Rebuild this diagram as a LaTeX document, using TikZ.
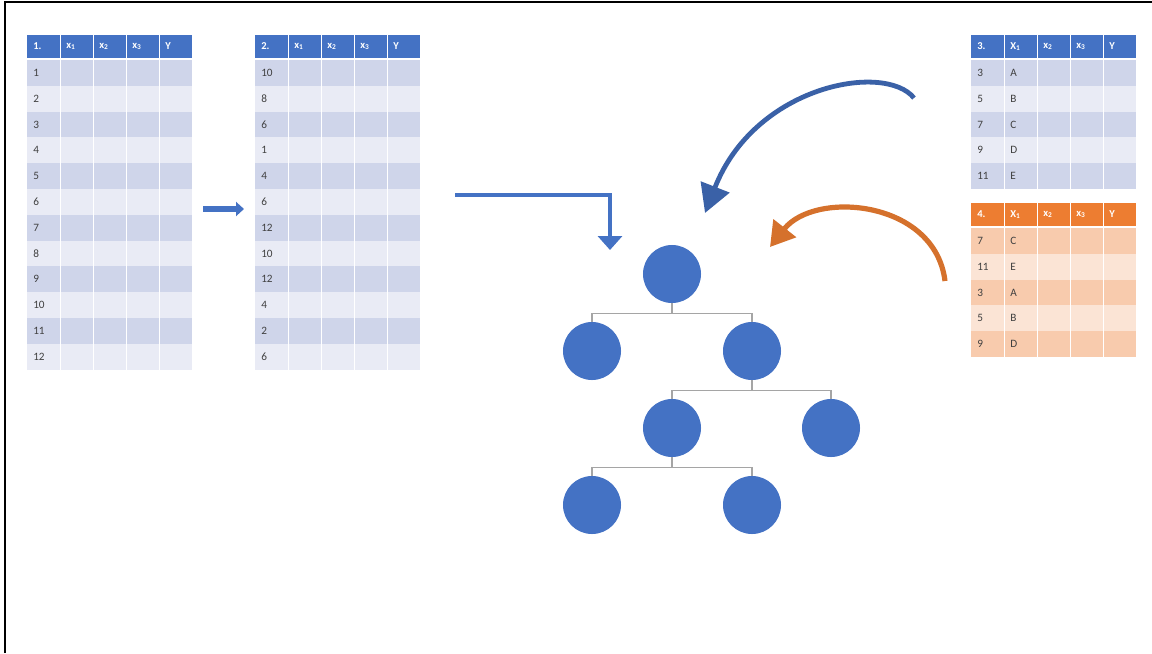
\documentclass[tikz,border=0pt]{standalone}
\usepackage{fontspec}
\setmainfont{Carlito}
\usetikzlibrary{arrows.meta, positioning}

\definecolor{bluehead}{HTML}{4472C4}
\definecolor{bluedark}{HTML}{CFD5EA}
\definecolor{bluelight}{HTML}{E9EBF5}
\definecolor{orangehead}{HTML}{ED7D31}
\definecolor{orangedark}{HTML}{F8CBAD}
\definecolor{orangelight}{HTML}{FBE4D5}
\definecolor{linkgrey}{HTML}{A5A5A5}
\definecolor{celltxt}{HTML}{404040}

\tikzset{
  headtext/.style={anchor=west, text=white, font=\fontsize{7.5}{8}\selectfont\bfseries, inner sep=0pt},
  celltext/.style={anchor=west, text=celltxt, font=\fontsize{8}{9}\selectfont, inner sep=0pt},
  treenode/.style={circle, fill=bluehead, minimum size=1.45cm, inner sep=0pt},
  link/.style={draw=linkgrey, line width=1pt},
  fatarrow/.style={draw=bluehead, line width=0.13cm, -{Triangle[length=0.35cm, width=0.6cm]}},
}

% table: name, left x, top y, colour stem, number, first variable, rows a/b
\newcommand{\datatable}[7]{%
  \fill[#4head] (#2,#3) rectangle ++(165,23);
  \foreach [count=\c from 0] \h in {#5,#6\textsubscript{1},x\textsubscript{2},x\textsubscript{3},Y}
    \node[headtext] (#1h\c) at (#2+6+33*\c, #3+11.5) {\h};
  \foreach [count=\r] \a/\b in {#7} {
    \ifodd\r \def\rowfill{#4dark}\else \def\rowfill{#4light}\fi
    \fill[\rowfill] (#2, #3+25+25.8*\r-25.8) rectangle ++(165,25.8);
    \foreach \c in {1,...,4}
      \draw[white, line width=0.6pt] (#2+33*\c, #3+25+25.8*\r-25.8) -- ++(0,25.8);
    \node[celltext] (#1a\r) at (#2+6, #3+25+25.8*\r-12.9) {\a};
    \node[celltext] (#1b\r) at (#2+39, #3+25+25.8*\r-12.9) {\b};
  }
  \foreach \c in {1,...,4}
    \draw[white, line width=0.6pt] (#2+33*\c, #3) -- ++(0,23);
}

\begin{document}
\begin{tikzpicture}[x=0.025cm, y=-0.025cm]
  \useasboundingbox (0,0) rectangle (1152,653);
  \draw[black, line width=1.2pt] (5,653) -- (5,2) -- (1152,2);

  % the four tables
  \datatable{ta}{27}{35}{blue}{1.}{x}{1/,2/,3/,4/,5/,6/,7/,8/,9/,10/,11/,12/}
  \datatable{tb}{255}{35}{blue}{2.}{x}{10/,8/,6/,1/,4/,6/,12/,10/,12/,4/,2/,6/}
  \datatable{tc}{971}{35}{blue}{3.}{X}{3/A,5/B,7/C,9/D,11/E}
  \datatable{td}{971}{203}{orange}{4.}{X}{7/C,11/E,3/A,5/B,9/D}

  % tree
  \node[treenode] (n0) at (672,274) {};
  \node[treenode] (n1) at (592,351) {};
  \node[treenode] (n2) at (752,351) {};
  \node[treenode] (n3) at (672,428) {};
  \node[treenode] (n4) at (831,428) {};
  \node[treenode] (n5) at (592,505) {};
  \node[treenode] (n6) at (752,505) {};

  \draw[link] (n0.south) -- ++(0,10) -| (n1.north);
  \draw[link] (n0.south) -- ++(0,10) -| (n2.north);
  \draw[link] (n2.south) -- ++(0,10) -| (n3.north);
  \draw[link] (n2.south) -- ++(0,10) -| (n4.north);
  \draw[link] (n3.south) -- ++(0,10) -| (n5.north);
  \draw[link] (n3.south) -- ++(0,10) -| (n6.north);

  % arrows
  \coordinate (s1) at (203,209);
  \coordinate (e1) at (244,209);
  \draw[fatarrow, line width=0.14cm, -{Triangle[length=0.2cm, width=0.35cm]}] (s1) -- (e1);

  \coordinate (s2) at (455,195);
  \coordinate (e2) at (610,250);
  \draw[fatarrow, line width=0.12cm] (s2) -| (e2);

  \coordinate (s3) at (914,98);
  \coordinate (e3) at (705,213);
  \draw[draw=bluehead!85!black, line width=0.12cm, -{Triangle[length=0.7cm, width=0.75cm]}]
    (s3) .. controls (885,62) and (755,85) .. (e3);

  \coordinate (s4) at (945,281);
  \coordinate (e4) at (770,247);
  \draw[draw=orangehead!90!black, line width=0.13cm, -{Triangle[length=0.6cm, width=0.7cm]}]
    (s4) .. controls (935,200) and (815,190) .. (e4);
\end{tikzpicture}
\end{document}
